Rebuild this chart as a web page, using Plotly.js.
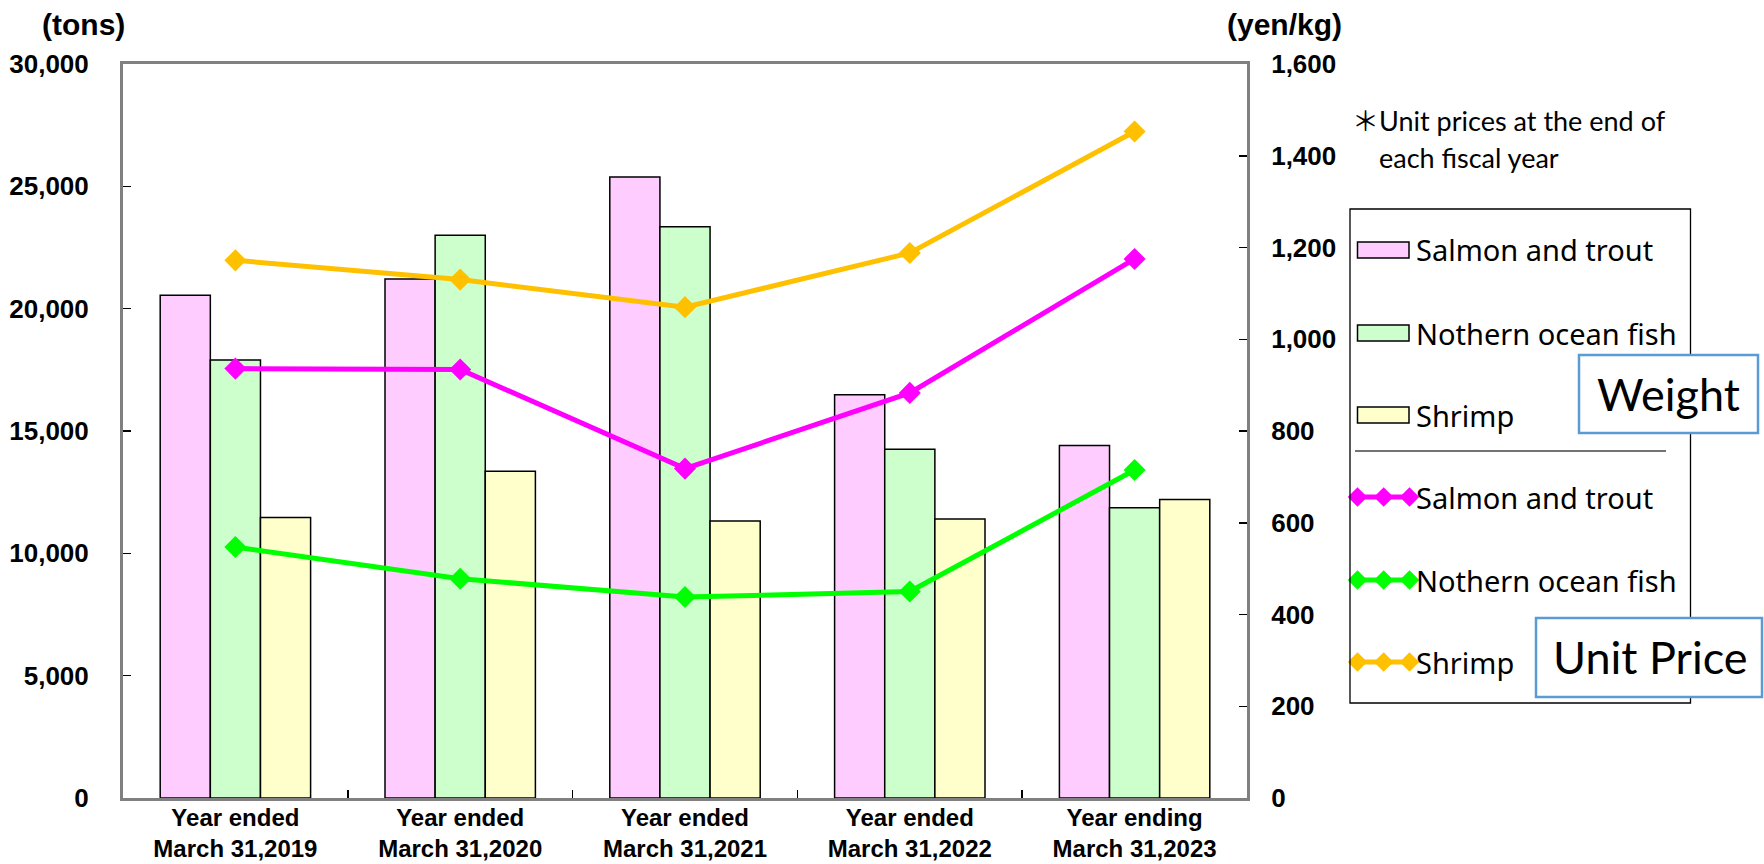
<!DOCTYPE html>
<html>
<head>
<meta charset="utf-8">
<script src="https://cdn.plot.ly/plotly-3.0.1.min.js"></script>
<style>html,body{margin:0;padding:0;background:#fff;}#chart{width:1764px;height:864px;}</style>
</head>
<body>
<div id="chart"></div>
<script>
// ---- data ----
const categories = [
  'Year ended<br>March 31,2019',
  'Year ended<br>March 31,2020',
  'Year ended<br>March 31,2021',
  'Year ended<br>March 31,2022',
  'Year ending<br>March 31,2023'
];
const seriesNames = ['Salmon and trout', 'Nothern ocean fish', 'Shrimp'];
const weightSalmon   = [20550, 21210, 25380, 16480, 14410];
const weightNorthern = [17900, 23000, 23350, 14250, 11860];
const weightShrimp   = [11460, 13360, 11320, 11400, 12200];
const priceSalmon    = [936, 934, 718, 883, 1175];
const priceNorthern  = [547, 478, 438, 450, 715];
const priceShrimp    = [1172, 1130, 1070, 1188, 1453];
const leftTicks  = [0, 5000, 10000, 15000, 20000, 25000, 30000];
const rightTicks = [0, 200, 400, 600, 800, 1000, 1200, 1400, 1600];

// ---- styles ----
const barColors  = ['#FFCCFF', '#CCFFCC', '#FFFFCC'];
const lineColors = ['#FF00FF', '#00FF00', '#FFC000'];
const W = 1764, H = 864;
const ML = 123, MT = 64, MB = 66;
const PW = W - ML, PH = H - MT - MB;
const plotRight = 1247;
const px = x => (x - ML) / PW;
const py = y => (H - MB - y) / PH;

const tickFont = {family: 'Liberation Sans, Arial, sans-serif', size: 26, color: '#000', weight: 'bold'};
const xTickFont = {family: 'Liberation Sans, Arial, sans-serif', size: 24, color: '#000', weight: 'bold'};
const legFont = {family: 'Noto Sans, sans-serif', size: 29, color: '#000'};
const boxFont = {family: 'Lato, sans-serif', size: 45, color: '#000'};
const noteFont = {family: 'Lato, Noto Sans CJK JP, sans-serif', size: 27, color: '#000'};

const weights = [weightSalmon, weightNorthern, weightShrimp];
const prices = [priceSalmon, priceNorthern, priceShrimp];

const traces = [];
weights.forEach((w, i) => {
  traces.push({
    type: 'bar', name: seriesNames[i], x: categories, y: w,
    marker: {color: barColors[i], line: {color: '#000', width: 1.5}},
    showlegend: false, hoverinfo: 'skip'
  });
});
prices.forEach((p, i) => {
  traces.push({
    type: 'scatter', mode: 'lines+markers', name: seriesNames[i], x: categories, y: p,
    yaxis: 'y2', line: {color: lineColors[i], width: 5},
    marker: {symbol: 'diamond', size: 17, color: lineColors[i]},
    showlegend: false, cliponaxis: false, hoverinfo: 'skip'
  });
});

// legend line glyphs (drawn by library on a pixel-space helper axis)
const legLineX = [1357.5, 1383.7, 1409.5];
const legLineY = [497, 580, 662];
prices.forEach((p, i) => {
  traces.push({
    type: 'scatter', mode: 'lines+markers', x: legLineX, y: legLineX.map(() => legLineY[i]),
    xaxis: 'x3', yaxis: 'y3', line: {color: lineColors[i], width: 5},
    marker: {symbol: 'diamond', size: 15, color: lineColors[i]},
    showlegend: false, cliponaxis: false, hoverinfo: 'skip'
  });
});

const shapes = [];
const annotations = [];
// legend frame
shapes.push({type: 'rect', xref: 'paper', yref: 'paper', x0: px(1350), x1: px(1690.5), y0: py(209), y1: py(703),
  line: {color: '#000', width: 1.3}, fillcolor: 'rgba(0,0,0,0)'});
// separator
shapes.push({type: 'line', xref: 'paper', yref: 'paper', x0: px(1355), x1: px(1666), y0: py(451), y1: py(451),
  line: {color: '#444', width: 1.5}});
// bar swatches
const legBarY = [250, 333, 415];
barColors.forEach((c, i) => {
  shapes.push({type: 'rect', xref: 'paper', yref: 'paper', x0: px(1357.5), x1: px(1409), y0: py(legBarY[i] - 8), y1: py(legBarY[i] + 8),
    line: {color: '#000', width: 1.5}, fillcolor: c});
  annotations.push({xref: 'paper', yref: 'paper', x: px(1414), y: py(legBarY[i]), xanchor: 'left', yanchor: 'middle',
    text: seriesNames[i], showarrow: false, font: legFont});
});
seriesNames.forEach((n, i) => {
  annotations.push({xref: 'paper', yref: 'paper', x: px(1414), y: py(legLineY[i]), xanchor: 'left', yanchor: 'middle',
    text: n, showarrow: false, font: legFont});
});
// Weight box
shapes.push({type: 'rect', xref: 'paper', yref: 'paper', x0: px(1579), x1: px(1758), y0: py(355), y1: py(433),
  line: {color: '#5B9BD5', width: 2.5}, fillcolor: '#fff'});
annotations.push({xref: 'paper', yref: 'paper', x: px(1668), y: py(394), xanchor: 'center', yanchor: 'middle',
  text: 'Weight', showarrow: false, font: boxFont});
// Unit Price box
shapes.push({type: 'rect', xref: 'paper', yref: 'paper', x0: px(1536), x1: px(1762), y0: py(618), y1: py(697),
  line: {color: '#5B9BD5', width: 2.5}, fillcolor: '#fff'});
annotations.push({xref: 'paper', yref: 'paper', x: px(1650), y: py(657), xanchor: 'center', yanchor: 'middle',
  text: 'Unit Price', showarrow: false, font: boxFont});
// note
annotations.push({xref: 'paper', yref: 'paper', x: px(1350), y: py(121), xanchor: 'left', yanchor: 'middle',
  text: '＊Unit prices at the end of', showarrow: false, font: noteFont});
annotations.push({xref: 'paper', yref: 'paper', x: px(1377), y: py(157), xanchor: 'left', yanchor: 'middle',
  text: 'each fiscal year', showarrow: false, font: noteFont});
// axis unit titles
annotations.push({xref: 'paper', yref: 'paper', x: px(83.5), y: py(25), xanchor: 'center', yanchor: 'middle',
  text: '(tons)', showarrow: false, font: {family: 'Liberation Sans, Arial, sans-serif', size: 30, color: '#000', weight: 'bold'}});
annotations.push({xref: 'paper', yref: 'paper', x: px(1284), y: py(25), xanchor: 'center', yanchor: 'middle',
  text: '(yen/kg)', showarrow: false, font: {family: 'Liberation Sans, Arial, sans-serif', size: 30, color: '#000', weight: 'bold'}});

const layout = {
  width: W, height: H,
  margin: {l: ML, r: 0, t: MT, b: MB, pad: 0},
  paper_bgcolor: '#fff', plot_bgcolor: 'rgba(0,0,0,0)',
  showlegend: false,
  barmode: 'group', bargap: 0.331, bargroupgap: 0,
  xaxis: {
    domain: [0, px(plotRight)], type: 'category', tickson: 'boundaries',
    ticks: 'inside', ticklen: 8, tickwidth: 1.5, tickcolor: '#000',
    showline: true, linecolor: '#808080', linewidth: 3, mirror: true,
    showgrid: false, tickfont: xTickFont, ticklabelstandoff: -4, fixedrange: true
  },
  yaxis: {
    range: [0, 30000], tickvals: leftTicks, tickformat: ',d',
    ticks: 'inside', ticklen: 8, tickwidth: 1.5, tickcolor: '#000',
    showline: true, linecolor: '#808080', linewidth: 3, mirror: true,
    showgrid: false, zeroline: false, tickfont: tickFont, ticklabelstandoff: 26, fixedrange: true
  },
  yaxis2: {
    overlaying: 'y', side: 'right', anchor: 'x', range: [0, 1600], tickvals: rightTicks, tickformat: ',d',
    ticks: 'inside', ticklen: 8, tickwidth: 1.5, tickcolor: '#000',
    showline: true, linecolor: '#808080', linewidth: 3,
    showgrid: false, zeroline: false, tickfont: tickFont, ticklabelstandoff: 16, fixedrange: true
  },
  xaxis3: {domain: [0, 1], range: [ML, W], anchor: 'y3', visible: false, fixedrange: true},
  yaxis3: {domain: [0, 1], range: [H - MB, MT], anchor: 'x3', visible: false, fixedrange: true},
  shapes: shapes,
  annotations: annotations
};

Plotly.newPlot('chart', traces, layout, {displayModeBar: false, staticPlot: true});
</script>
</body>
</html>
